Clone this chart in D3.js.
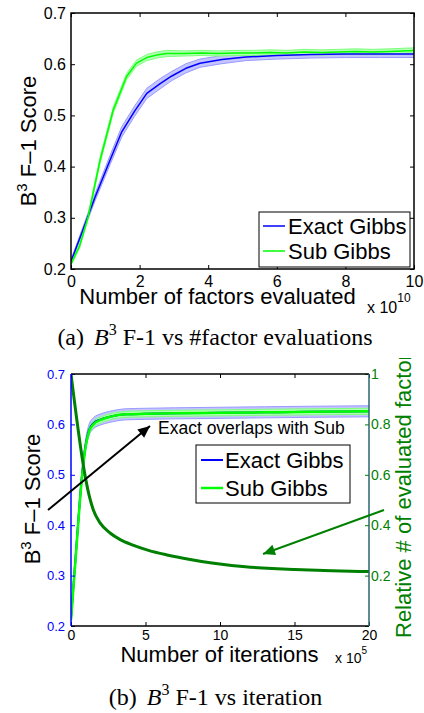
<!DOCTYPE html>
<html><head><meta charset="utf-8">
<script src="https://cdn.jsdelivr.net/npm/d3@7"></script>
<style>
body{margin:0;background:#fff;}
svg{display:block;}
text{font-family:"Liberation Sans",Arial,sans-serif;}
</style></head>
<body>
<svg id="c" width="424" height="713"></svg>
<script>
// ---- Data: (a) F-1 vs # factor evaluations (x in 1e10) ----
const topExactX = [0, 0.3, 0.7, 1.14, 1.48, 1.85, 2.21, 2.6, 2.94, 3.35, 3.76, 4.4, 5.1, 6, 7, 8, 9, 10];
const topExactY = [0.215, 0.268, 0.34, 0.413, 0.468, 0.508, 0.543, 0.562, 0.577, 0.592, 0.602, 0.609, 0.614, 0.617, 0.619, 0.620, 0.620, 0.620];
const topExactErr = [0.003, 0.005, 0.007, 0.009, 0.010, 0.010, 0.010, 0.010, 0.009, 0.009, 0.008, 0.008, 0.007, 0.007, 0.007, 0.007, 0.007, 0.007];
const topSubX = [0, 0.25, 0.5, 0.85, 1.23, 1.62, 1.91, 2.21, 2.5, 2.79, 3.3, 3.8, 4.3, 4.8, 5.3, 5.8, 6.3, 6.8, 7.3, 7.8, 8.3, 8.8, 9.3, 10];
const topSubY = [0.21, 0.245, 0.302, 0.413, 0.51, 0.576, 0.602, 0.613, 0.618, 0.621, 0.621, 0.622, 0.621, 0.622, 0.622, 0.623, 0.622, 0.624, 0.623, 0.624, 0.625, 0.624, 0.625, 0.627];
const topSubErr = [0.003, 0.004, 0.005, 0.006, 0.006, 0.006, 0.006, 0.006, 0.006, 0.006, 0.005, 0.005, 0.005, 0.005, 0.005, 0.005, 0.005, 0.005, 0.005, 0.005, 0.005, 0.005, 0.005, 0.005];
const topXTicks = [0, 2, 4, 6, 8, 10];
const topYTicks = [0.2, 0.3, 0.4, 0.5, 0.6, 0.7];

// ---- Data: (b) F-1 vs iteration (x in 1e5) ----
const botX = [0, 0.35, 0.72, 0.95, 1.2, 1.5, 2.0, 2.6, 3.7, 5, 7, 10, 13, 16, 20];
const botSubY = [0.212, 0.35, 0.49, 0.55, 0.585, 0.600, 0.609, 0.615, 0.620, 0.621, 0.622, 0.623, 0.624, 0.625, 0.626];
const botSubErr = [0.004, 0.006, 0.006, 0.006, 0.006, 0.006, 0.006, 0.006, 0.006, 0.006, 0.006, 0.006, 0.006, 0.006, 0.006];
const botExactY = [0.214, 0.353, 0.493, 0.553, 0.588, 0.602, 0.610, 0.615, 0.620, 0.621, 0.622, 0.623, 0.624, 0.625, 0.626];
const botExactErr = [0.006, 0.010, 0.011, 0.011, 0.011, 0.011, 0.011, 0.011, 0.011, 0.011, 0.011, 0.011, 0.011, 0.011, 0.011];
const relX = [0, 1.0, 1.25, 1.5, 1.95, 2.62, 3.3, 4.16, 5.2, 6.44, 8, 9.46, 11.7, 13.5, 15, 17.5, 20];
const relY = [1.0, 0.579, 0.51, 0.46, 0.409, 0.369, 0.343, 0.321, 0.300, 0.282, 0.264, 0.250, 0.235, 0.228, 0.224, 0.219, 0.216];
const botXTicks = [0, 5, 10, 15, 20];
const botYTicks = [0.2, 0.3, 0.4, 0.5, 0.6, 0.7];
const botY2Ticks = [0, 0.2, 0.4, 0.6, 0.8, 1];

const seriesNames = ["Exact Gibbs", "Sub Gibbs"];

const svg = d3.select("#c");
const BLUE = "#0000ff", GREEN = "#00ff00", DKGREEN = "#008000";

function zip(xs, ys, es) { return xs.map((x, i) => ({x, y: ys[i], e: es ? es[i] : 0})); }

function drawBand(g, data, x, y, fill, edge, curve) {
  const area = d3.area().x(d => x(d.x)).y0(d => y(d.y - d.e)).y1(d => y(d.y + d.e)).curve(curve);
  g.append("path").attr("d", area(data)).attr("fill", fill).attr("stroke", "none");
  const lo = d3.line().x(d => x(d.x)).y(d => y(d.y - d.e)).curve(curve);
  const hi = d3.line().x(d => x(d.x)).y(d => y(d.y + d.e)).curve(curve);
  g.append("path").attr("d", lo(data)).attr("fill", "none").attr("stroke", edge).attr("stroke-width", 1);
  g.append("path").attr("d", hi(data)).attr("fill", "none").attr("stroke", edge).attr("stroke-width", 1);
}
function drawLine(g, data, x, y, color, w, curve) {
  const l = d3.line().x(d => x(d.x)).y(d => y(d.y)).curve(curve);
  g.append("path").attr("d", l(data)).attr("fill", "none").attr("stroke", color).attr("stroke-width", w).attr("stroke-linejoin", "round");
}
function styleAxis(g, color, size) {
  g.select(".domain").remove();
  g.selectAll(".tick line").attr("stroke", color).attr("stroke-width", 1);
  g.selectAll(".tick text").attr("fill", color).attr("font-size", size).attr("font-family", '"Liberation Sans",Arial,sans-serif');
}
function yLabel(x, cy, size, parts, color) {
  const t = svg.append("text").attr("transform", `translate(${x},${cy}) rotate(-90)`)
    .attr("text-anchor", "middle").attr("font-size", size).attr("fill", color || "#000");
  parts.forEach(p => {
    const ts = t.append("tspan").text(p.t);
    if (p.sup) ts.attr("font-size", size * 0.68).attr("dy", -size * 0.42);
    if (p.down) ts.attr("dy", size * 0.42);
  });
  return t;
}
function arrow(x1, y1, x2, y2, color, w, head) {
  svg.append("line").attr("x1", x1).attr("y1", y1).attr("x2", x2).attr("y2", y2)
    .attr("stroke", color).attr("stroke-width", w);
  const a = Math.atan2(y2 - y1, x2 - x1), L = head, W = head * 0.45;
  const bx = x2 - L * Math.cos(a), by = y2 - L * Math.sin(a);
  const px = -Math.sin(a) * W, py = Math.cos(a) * W;
  svg.append("path").attr("d", `M${x2},${y2}L${bx + px},${by + py}L${bx - px},${by - py}Z`).attr("fill", color);
}
function caption(cx, cy, label, rest) {
  const t = svg.append("text").attr("x", cx).attr("y", cy).attr("text-anchor", "middle")
    .attr("font-size", 24).style("font-family", '"Liberation Serif","Times New Roman",serif');
  t.append("tspan").text(label);
  t.append("tspan").attr("dx", 10).attr("font-style", "italic").text("B");
  t.append("tspan").attr("font-size", 16).attr("dy", -10).text("3");
  t.append("tspan").attr("dy", 10).text(" " + rest);
}

// ================= Panel (a) =================
{
  const L = 71, R = 414, T = 13, B = 269;
  const x = d3.scaleLinear().domain([0, 10]).range([L, R]);
  const y = d3.scaleLinear().domain([0.2, 0.7]).range([B, T]);
  svg.append("clipPath").attr("id", "clipA").append("rect").attr("x", L).attr("y", T).attr("width", R - L).attr("height", B - T);
  const g = svg.append("g").attr("clip-path", "url(#clipA)");
  const cv = d3.curveLinear;
  const ex = zip(topExactX, topExactY, topExactErr), sb = zip(topSubX, topSubY, topSubErr);
  drawBand(g, ex, x, y, "#c4c4ff", "#9a9aff", cv);
  drawBand(g, sb, x, y, "#b4ffb4", "#7cff7c", cv);
  drawLine(g, ex, x, y, BLUE, 1.5, cv);
  drawLine(g, sb, x, y, GREEN, 1.5, cv);

  const ax1 = svg.append("g").attr("transform", `translate(0,${B})`)
    .call(d3.axisBottom(x).tickValues(topXTicks).tickSize(-4).tickSizeOuter(0).tickPadding(7).tickFormat(d3.format("d")));
  styleAxis(ax1, "#000", 16);
  const ax2 = svg.append("g").attr("transform", `translate(0,${T})`)
    .call(d3.axisTop(x).tickValues(topXTicks).tickSize(-4).tickSizeOuter(0).tickFormat(""));
  styleAxis(ax2, "#000", 16);
  const ay1 = svg.append("g").attr("transform", `translate(${L},0)`)
    .call(d3.axisLeft(y).tickValues(topYTicks).tickSize(-4).tickSizeOuter(0).tickPadding(5).tickFormat(d3.format(".1f")));
  styleAxis(ay1, "#000", 16);
  const ay2 = svg.append("g").attr("transform", `translate(${R},0)`)
    .call(d3.axisRight(y).tickValues(topYTicks).tickSize(-4).tickSizeOuter(0).tickFormat(""));
  styleAxis(ay2, "#000", 16);
  svg.append("rect").attr("x", L).attr("y", T).attr("width", R - L).attr("height", B - T)
    .attr("fill", "none").attr("stroke", "#000").attr("stroke-width", 1.5);

  // legend
  const lg = svg.append("g");
  lg.append("rect").attr("x", 259).attr("y", 212).attr("width", 151).attr("height", 55).attr("fill", "#fff").attr("stroke", "#000").attr("stroke-width", 1);
  [[BLUE, 226], [GREEN, 251]].forEach((c, i) => {
    lg.append("line").attr("x1", 263).attr("x2", 285).attr("y1", c[1]).attr("y2", c[1]).attr("stroke", c[0]).attr("stroke-width", 1.5);
    lg.append("text").attr("x", 288).attr("y", c[1] + 8).attr("font-size", 22).text(seriesNames[i]);
  });

  svg.append("text").attr("x", 217.5).attr("y", 304).attr("text-anchor", "middle").attr("font-size", 22).text("Number of factors evaluated");
  const xe = svg.append("text").attr("x", 367).attr("y", 313).attr("font-size", 16);
  xe.append("tspan").text("x 10");
  xe.append("tspan").attr("font-size", 12).attr("dy", -11).text("10");
  yLabel(36, 141, 22, [{t: "B"}, {t: "3", sup: true}, {t: " F–1 Score", down: true}]);
}

caption(215, 345, "(a)", "F-1 vs #factor evaluations");

// ================= Panel (b) =================
{
  const L = 71, R = 369, T = 374, B = 626;
  const x = d3.scaleLinear().domain([0, 20]).range([L, R]);
  const y = d3.scaleLinear().domain([0.2, 0.7]).range([B, T]);
  const y2 = d3.scaleLinear().domain([0, 1]).range([B, T]);
  svg.append("clipPath").attr("id", "clipB").append("rect").attr("x", L).attr("y", T).attr("width", R - L).attr("height", B - T);
  const g = svg.append("g").attr("clip-path", "url(#clipB)");
  const cv = d3.curveMonotoneX;
  const ex = zip(botX, botExactY, botExactErr), sb = zip(botX, botSubY, botSubErr);
  drawBand(g, ex, x, y, "#c4c4ff", "#9a9aff", cv);
  drawBand(g, sb, x, y, "#b4ffb4", "#7cff7c", cv);
  drawLine(g, ex, x, y, BLUE, 2, cv);
  drawLine(g, sb, x, y, GREEN, 2.5, cv);
  drawLine(g, zip(relX, relY), x, y2, DKGREEN, 3, cv);

  const ax1 = svg.append("g").attr("transform", `translate(0,${B})`)
    .call(d3.axisBottom(x).tickValues(botXTicks).tickSize(-4).tickSizeOuter(0).tickPadding(4).tickFormat(d3.format("d")));
  styleAxis(ax1, "#000", 14);
  const ax2 = svg.append("g").attr("transform", `translate(0,${T})`)
    .call(d3.axisTop(x).tickValues(botXTicks).tickSize(-4).tickSizeOuter(0).tickFormat(""));
  styleAxis(ax2, "#000", 14);
  const ay1 = svg.append("g").attr("transform", `translate(${L},0)`)
    .call(d3.axisLeft(y).tickValues(botYTicks).tickSize(-4).tickSizeOuter(0).tickPadding(6).tickFormat(d3.format(".1f")));
  styleAxis(ay1, BLUE, 13);
  const ay2 = svg.append("g").attr("transform", `translate(${R},0)`)
    .call(d3.axisRight(y2).tickValues(botY2Ticks).tickSize(-4).tickSizeOuter(0).tickPadding(2)
      .tickFormat(d => d === 0 ? "" : String(+d.toFixed(1))));
  styleAxis(ay2, DKGREEN, 14);
  // frame
  svg.append("line").attr("x1", L).attr("x2", R).attr("y1", T).attr("y2", T).attr("stroke", "#000").attr("stroke-width", 1.5);
  svg.append("line").attr("x1", L).attr("x2", R).attr("y1", B).attr("y2", B).attr("stroke", "#000").attr("stroke-width", 1.5);
  svg.append("line").attr("x1", L).attr("x2", L).attr("y1", T).attr("y2", B).attr("stroke", BLUE).attr("stroke-width", 1.5);
  svg.append("line").attr("x1", R).attr("x2", R).attr("y1", T).attr("y2", B).attr("stroke", "#2a6470").attr("stroke-width", 1.5);

  // legend
  const lg = svg.append("g");
  lg.append("rect").attr("x", 196).attr("y", 445).attr("width", 154).attr("height", 58).attr("fill", "#fff").attr("stroke", "#000").attr("stroke-width", 1);
  [[BLUE, 460, 2], [GREEN, 488, 2.5]].forEach((c, i) => {
    lg.append("line").attr("x1", 201).attr("x2", 223).attr("y1", c[1]).attr("y2", c[1]).attr("stroke", c[0]).attr("stroke-width", c[2]);
    lg.append("text").attr("x", 225).attr("y", c[1] + 8).attr("font-size", 22).text(seriesNames[i]);
  });

  // annotations
  svg.append("text").attr("x", 158).attr("y", 434).attr("font-size", 17.5).text("Exact overlaps with Sub");
  arrow(48, 510, 150, 426, "#000", 2, 12);
  arrow(384, 510, 263, 554, DKGREEN, 2, 12);

  svg.append("text").attr("x", 219.5).attr("y", 662).attr("text-anchor", "middle").attr("font-size", 22).text("Number of iterations");
  const xe = svg.append("text").attr("x", 335).attr("y", 663).attr("font-size", 14);
  xe.append("tspan").text("x 10");
  xe.append("tspan").attr("font-size", 10).attr("dy", -9).text("5");
  yLabel(40, 499, 22, [{t: "B"}, {t: "3", sup: true}, {t: " F–1 Score", down: true}]);

  svg.append("clipPath").attr("id", "clipR").append("rect").attr("x", 380).attr("y", 358).attr("width", 44).attr("height", 355);
  svg.append("g").attr("clip-path", "url(#clipR)").append("text")
    .attr("transform", "translate(411,638) rotate(-90)").attr("text-anchor", "start")
    .attr("font-size", 22).attr("fill", DKGREEN).text("Relative # of evaluated factors");
}

caption(215.5, 705, "(b)", "F-1 vs iteration");
</script>
</body></html>
